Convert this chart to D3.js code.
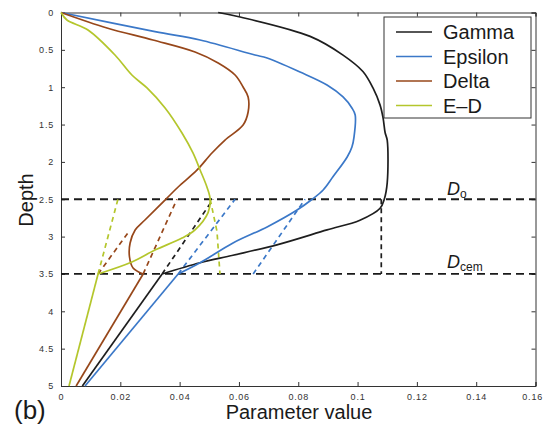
<!DOCTYPE html>
<html><head><meta charset="utf-8">
<script src="https://cdn.jsdelivr.net/npm/d3@7"></script>
<style>body{margin:0;background:#fff}svg{display:block}</style>
</head><body><svg id="c" width="543" height="428"></svg>
<script>
// ---- data ----
const seriesNames = ["Gamma", "Epsilon", "Delta", "E\u2013D"];
const xTicks = [0, 0.02, 0.04, 0.06, 0.08, 0.1, 0.12, 0.14, 0.16];
const xTickLabels = ["0", "0.02", "0.04", "0.06", "0.08", "0.1", "0.12", "0.14", "0.16"];
const yTicks = [0, 0.5, 1, 1.5, 2, 2.5, 3, 3.5, 4, 4.5, 5];
const yTickLabels = ["0", "0.5", "1", "1.5", "2", "2.5", "3", "3.5", "4", "4.5", "5"];

const gammaDepth = [0, 0.06, 0.32, 0.57, 0.79, 1.01, 1.24, 1.41, 1.61, 1.71, 2.28, 2.5, 2.62, 2.78, 2.91, 3.11, 3.25, 3.35, 3.5, 5];
const gammaValue = [0.053, 0.0604, 0.084, 0.0951, 0.1018, 0.1052, 0.1076, 0.1086, 0.1093, 0.110, 0.110, 0.109, 0.1076, 0.1008, 0.0897, 0.0728, 0.058, 0.0469, 0.0341, 0.0072];

const epsilonDepth = [0, 0.257, 0.368, 0.569, 0.609, 0.797, 0.971, 1.131, 1.278, 1.372, 1.667, 1.80, 1.934, 2.20, 2.376, 2.5, 2.644, 2.87, 3.085, 3.35, 3.5, 5];
const epsilonValue = [0, 0.0317, 0.0469, 0.0654, 0.0695, 0.0806, 0.0897, 0.0951, 0.0981, 0.0992, 0.0988, 0.0981, 0.0965, 0.0917, 0.0884, 0.0847, 0.0796, 0.0695, 0.058, 0.0469, 0.0395, 0.0081];

const deltaDepth = [0, 0.207, 0.368, 0.529, 0.676, 0.837, 0.997, 1.131, 1.332, 1.506, 1.707, 1.881, 2.108, 2.336, 2.497, 2.778, 2.912, 3.086, 3.273, 3.42, 3.5, 5];
const deltaValue = [0, 0.0155, 0.031, 0.0452, 0.053, 0.0587, 0.0614, 0.0631, 0.0631, 0.0614, 0.0553, 0.0509, 0.0459, 0.0395, 0.0354, 0.0283, 0.025, 0.0233, 0.0231, 0.0243, 0.0277, 0.0051];

const edDepth = [0, 0.1, 0.234, 0.569, 0.837, 1.01, 1.278, 1.613, 1.88, 2.108, 2.336, 2.5, 2.68, 2.91, 3.02, 3.18, 3.34, 3.5, 5];
const edValue = [0, 0.002, 0.0091, 0.0182, 0.0239, 0.029, 0.0351, 0.0408, 0.0445, 0.0469, 0.0492, 0.0503, 0.0496, 0.0452, 0.0408, 0.0317, 0.0239, 0.0125, 0.0027];

// dashed extrapolation segments
const gammaDashDepth = [[3.5, 2.5], [2.5, 3.5]];
const gammaDashValue = [[0.0341, 0.0513], [0.108, 0.108]];
const epsilonDashDepth = [[3.5, 2.5], [3.5, 2.5]];
const epsilonDashValue = [[0.0395, 0.0587], [0.0648, 0.0823]];
const deltaDashDepth = [[3.5, 2.95], [3.5, 2.5]];
const deltaDashValue = [[0.0125, 0.0226], [0.0277, 0.0391]];
const edDashDepth = [[3.5, 2.5], [2.5, 2.93, 3.5]];
const edDashValue = [[0.0125, 0.0192], [0.0503, 0.0526, 0.0536]];

const refDepths = [2.5, 3.5];
const kinkDepth = 3.5;

// ---- chart ----
const colors = ["#1e1e1e", "#3b78c8", "#97471a", "#b4c62c"];
const svg = d3.select("#c");
const L = 61, R = 535.5, T = 12.5, B = 386;
const x = d3.scaleLinear().domain([0, 0.16]).range([L, R]);
const y = d3.scaleLinear().domain([0, 5]).range([T, B]);

const tickFont = "Liberation Sans, Arial, sans-serif";

// axes
const gx = svg.append("g").attr("transform", `translate(0,${B})`)
  .call(d3.axisBottom(x).tickValues(xTicks).tickSize(-4).tickPadding(8)
    .tickFormat((d, i) => xTickLabels[i]));
const gxt = svg.append("g").attr("transform", `translate(0,${T})`)
  .call(d3.axisTop(x).tickValues(xTicks).tickSize(-4).tickFormat(""));
const gy = svg.append("g").attr("transform", `translate(${L},0)`)
  .call(d3.axisLeft(y).tickValues(yTicks).tickSize(-4).tickPadding(7)
    .tickFormat((d, i) => yTickLabels[i]));
const gyr = svg.append("g").attr("transform", `translate(${R},0)`)
  .call(d3.axisRight(y).tickValues(yTicks).tickSize(-4).tickFormat(""));
[gx, gxt, gy, gyr].forEach(g => {
  g.select(".domain").attr("stroke", "#333").attr("stroke-width", 1);
  g.selectAll(".tick line").attr("stroke", "#333");
  g.selectAll("text").attr("fill", "#333").style("font-family", tickFont)
    .style("font-size", "9px").style("letter-spacing", "0.8px");
});
// last x label sits at the right edge; keep it inside the page
gx.selectAll(".tick text").filter((d, i) => i === xTicks.length - 1).attr("text-anchor", "end").attr("dx", 7);

// reference lines
svg.append("g").selectAll("line").data(refDepths).join("line")
  .attr("x1", L).attr("x2", R).attr("y1", d => y(d)).attr("y2", d => y(d))
  .attr("stroke", "#1a1a1a").attr("stroke-width", 1.8).attr("stroke-dasharray", "8,5");

const line = d3.line().x(d => x(d[0])).y(d => y(d[1]));
const smooth = d3.line().x(d => x(d[0])).y(d => y(d[1])).curve(d3.curveCatmullRom.alpha(0.5));

const solids = [[gammaValue, gammaDepth], [epsilonValue, epsilonDepth], [deltaValue, deltaDepth], [edValue, edDepth]];
const dashes = [[gammaDashValue, gammaDashDepth], [epsilonDashValue, epsilonDashDepth], [deltaDashValue, deltaDashDepth], [edDashValue, edDashDepth]];

dashes.forEach(([vs, ds], k) => {
  vs.forEach((v, j) => {
    svg.append("path").datum(v.map((vv, i) => [vv, ds[j][i]]))
      .attr("d", line).attr("fill", "none").attr("stroke", colors[k])
      .attr("stroke-width", 1.7).attr("stroke-dasharray", "5,4");
  });
});
solids.forEach(([vs, ds], k) => {
  const pts = vs.map((v, i) => [v, ds[i]]);
  const upper = pts.filter(p => p[1] <= kinkDepth);
  const lower = pts.filter(p => p[1] >= kinkDepth);
  svg.append("path").datum(upper)
    .attr("d", smooth).attr("fill", "none").attr("stroke", colors[k])
    .attr("stroke-width", 1.7).attr("stroke-linejoin", "round");
  svg.append("path").datum(lower)
    .attr("d", line).attr("fill", "none").attr("stroke", colors[k])
    .attr("stroke-width", 1.7).attr("stroke-linejoin", "round");
});

// labels D_o, D_cem
const t1 = svg.append("text").attr("x", 447).attr("y", 195).style("font-family", tickFont).attr("fill", "#1a1a1a");
t1.append("tspan").text("D").style("font-style", "italic").style("font-size", "18px");
t1.append("tspan").text("o").attr("dy", 3).style("font-size", "12px");
const t2 = svg.append("text").attr("x", 447).attr("y", 268).style("font-family", tickFont).attr("fill", "#1a1a1a");
t2.append("tspan").text("D").style("font-style", "italic").style("font-size", "18px");
t2.append("tspan").text("cem").attr("dy", 3).style("font-size", "12px");

// legend
const lg = svg.append("g");
lg.append("rect").attr("x", 384).attr("y", 17).attr("width", 147).attr("height", 101)
  .attr("fill", "#fff").attr("stroke", "#333").attr("stroke-width", 1);
seriesNames.forEach((n, i) => {
  const yy = 32 + i * 24.5;
  lg.append("line").attr("x1", 396).attr("x2", 432).attr("y1", yy).attr("y2", yy)
    .attr("stroke", colors[i]).attr("stroke-width", 1.7);
  lg.append("text").attr("x", 443).attr("y", yy + 7).text(n)
    .style("font-family", tickFont).style("font-size", "20px").attr("fill", "#1a1a1a");
});

// axis titles
svg.append("text").attr("x", 299).attr("y", 419).attr("text-anchor", "middle")
  .text("Parameter value").style("font-family", tickFont).style("font-size", "20px").attr("fill", "#1a1a1a");
svg.append("text").attr("transform", "translate(33,200) rotate(-90)").attr("text-anchor", "middle")
  .text("Depth").style("font-family", tickFont).style("font-size", "20px").attr("fill", "#1a1a1a");
svg.append("text").attr("x", 14).attr("y", 419)
  .text("(b)").style("font-family", tickFont).style("font-size", "26px").attr("fill", "#1a1a1a");
</script>
</body></html>
